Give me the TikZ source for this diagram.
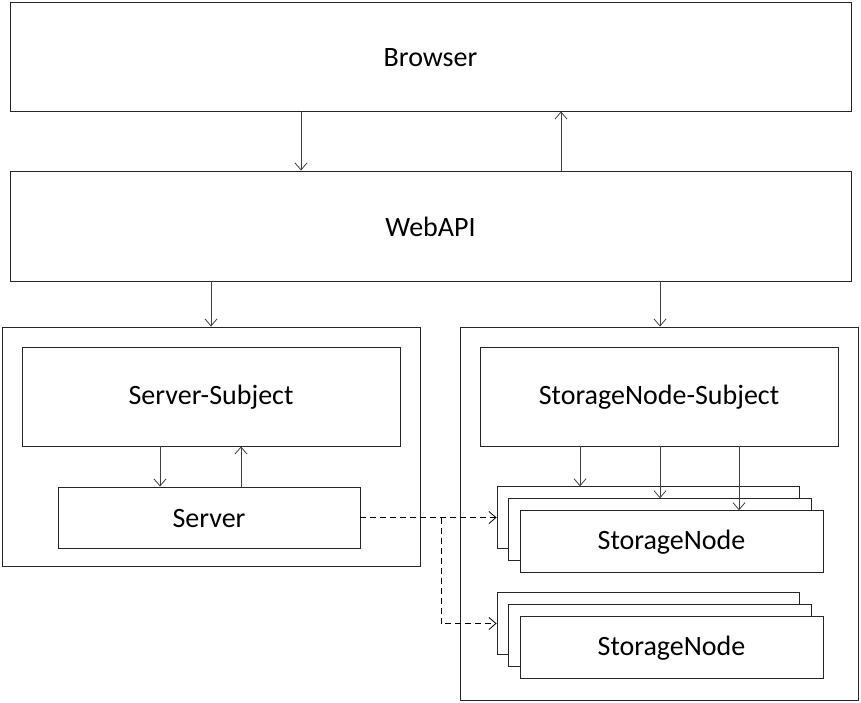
\documentclass[tikz,border=0pt]{standalone}
\usepackage{fontspec}
\setmainfont{Carlito}
\usetikzlibrary{arrows.meta}
\begin{document}
\begin{tikzpicture}[x=1pt,y=-1pt,
  box/.style={draw=black!85,line width=0.9pt,fill=white,inner sep=0pt},
  lbl/.style={font=\fontsize{28}{32}\selectfont},
  conn/.style={draw=black!75,line width=0.9pt,-{Straight Barb[length=7pt,width=12pt,line width=0.8pt]}},
  dconn/.style={conn,draw=black,line width=1pt,dash pattern=on 6pt off 4pt}]
\useasboundingbox (0,0) rectangle (861,703);
% top level
\node[box,minimum width=841pt,minimum height=109pt] (browser) at (430.5,56.5) {};
\node[lbl] at ([yshift=-1pt]browser.center) {Browser};
\node[box,minimum width=841pt,minimum height=110pt] (webapi) at (430.5,226) {};
\node[lbl] at ([yshift=-1pt]webapi.center) {WebAPI};
% containers
\node[box,minimum width=418pt,minimum height=239pt] (leftc) at (211,446.5) {};
\node[box,minimum width=398pt,minimum height=373pt] (rightc) at (659,513.5) {};
% left side
\node[box,minimum width=378pt,minimum height=99pt] (ssub) at (211,396.5) {};
\node[lbl] at ([yshift=-1pt]ssub.center) {Server-Subject};
\node[box,minimum width=302pt,minimum height=61pt] (server) at (209,517.5) {};
\node[lbl] at ([yshift=-1pt]server.center) {Server};
% right side
\node[box,minimum width=358pt,minimum height=99pt] (snsub) at (659,396.5) {};
\node[lbl] at ([yshift=-1pt]snsub.center) {StorageNode-Subject};
% stack 1
\node[box,minimum width=302pt,minimum height=61.5pt] (s1a) at (648,517.5) {};
\node[box,minimum width=303pt,minimum height=61.5pt] (s1b) at (659.5,529.5) {};
\node[box,minimum width=303pt,minimum height=61.5pt] (s1c) at (671.5,541.5) {};
\node[lbl] at ([yshift=-1pt]s1c.center) {StorageNode};
% stack 2
\node[box,minimum width=302pt,minimum height=61.5pt] (s2a) at (648,623.5) {};
\node[box,minimum width=303pt,minimum height=61.5pt] (s2b) at (659.5,635.5) {};
\node[box,minimum width=303pt,minimum height=61.5pt] (s2c) at (671.5,647.5) {};
\node[lbl] at ([yshift=-1pt]s2c.center) {StorageNode};
% connectors
\draw[conn] (browser.south -| 301,0) -- (webapi.north -| 301,0);
\draw[conn] (webapi.north -| 561,0) -- (browser.south -| 561,0);
\draw[conn] (webapi.south -| 211,0) -- (leftc.north -| 211,0);
\draw[conn] (webapi.south -| 660,0) -- (rightc.north -| 660,0);
\draw[conn] (ssub.south -| 160,0) -- (server.north -| 160,0);
\draw[conn] (server.north -| 241,0) -- (ssub.south -| 241,0);
\draw[conn] (snsub.south -| 580,0) -- (s1a.north -| 580,0);
\draw[conn] (snsub.south -| 660,0) -- (s1b.north -| 660,0);
\draw[conn] (snsub.south -| 739,0) -- (s1c.north -| 739,0);
\coordinate (br) at (441,517.5);
\draw[dconn] (server.east) -- (s1a.west);
\draw[dconn] (br) |- (s2a.west);
\end{tikzpicture}
\end{document}
